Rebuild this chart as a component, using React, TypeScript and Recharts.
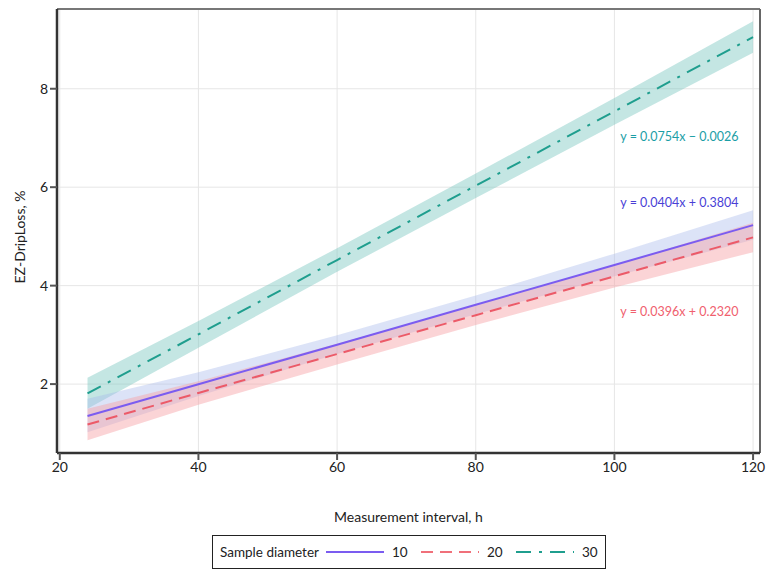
import React from 'react'
import { ComposedChart, Line, Area, XAxis, YAxis, CartesianGrid, ReferenceLine, ReferenceDot } from 'recharts'

// measurement interval, h
const hours = [24, 40, 60, 80, 100, 120]

// fitted lines
const fit10 = [1.35, 1.997, 2.80, 3.61, 4.42, 5.23]
const fit20 = [1.18, 1.82, 2.61, 3.40, 4.19, 4.98]
const fit30 = [1.81, 3.01, 4.52, 6.03, 7.54, 9.05]

// confidence bands (low / high)
const low10 = [1.02, 1.76, 2.61, 3.42, 4.19, 4.93]
const high10 = [1.70, 2.24, 2.99, 3.80, 4.65, 5.53]
const low20 = [0.86, 1.58, 2.40, 3.20, 3.96, 4.68]
const high20 = [1.50, 2.06, 2.82, 3.60, 4.42, 5.28]
const low30 = [1.50, 2.74, 4.28, 5.78, 7.27, 8.73]
const high30 = [2.13, 3.28, 4.76, 6.28, 7.81, 9.37]

const xTicks = [20, 40, 60, 80, 100, 120]
const yTicks = [2, 4, 6, 8]

const equations = [
  { text: 'y = 0.0754x \u2212 0.0026', x: 101, y: 7.0, color: '#1b9ea6' },
  { text: 'y = 0.0404x + 0.3804', x: 101, y: 5.66, color: '#4a3fd6' },
  { text: 'y = 0.0396x + 0.2320', x: 101, y: 3.44, color: '#f0606e' },
]

const legendItems = [
  { label: '10', color: '#7b5cf0', dash: undefined },
  { label: '20', color: '#f0707a', dash: '12 7' },
  { label: '30', color: '#1f9e8e', dash: '15 8 3 8' },
]

const data = hours.map((h, i) => ({
  h,
  l10: fit10[i],
  l20: fit20[i],
  l30: fit30[i],
  b10: [low10[i], high10[i]],
  b20: [low20[i], high20[i]],
  b30: [low30[i], high30[i]],
}))

const FONT = 'Lato, "Open Sans", sans-serif'

function LegendBox() {
  return (
    <div
      style={{
        position: 'absolute',
        left: 212,
        top: 535,
        display: 'flex',
        alignItems: 'center',
        border: '1.5px solid #222',
        height: 34,
        width: 394,
        boxSizing: 'border-box',
        paddingLeft: 7,
        fontFamily: FONT,
        fontSize: 13.5,
        color: '#222',
        whiteSpace: 'nowrap',
      }}
    >
      <span style={{ width: 106, flexShrink: 0 }}>Sample diameter</span>
      {legendItems.map((it, i) => (
        <span
          key={it.label}
          style={{ display: 'flex', alignItems: 'center', flexShrink: 0, width: i < legendItems.length - 1 ? 95 : 'auto' }}
        >
          <svg width={58} height={6}>
            <line x1={0} y1={3} x2={58} y2={3} stroke={it.color} strokeWidth={2} strokeDasharray={it.dash} />
          </svg>
          <span style={{ marginLeft: 8 }}>{it.label}</span>
        </span>
      ))}
    </div>
  )
}

export default function App() {
  return (
    <div style={{ position: 'absolute', left: 0, top: 0, width: 772, height: 581, background: '#fff' }}>
      <ComposedChart width={772} height={581} data={data} margin={{ top: 9, right: 12, left: 0, bottom: 98 }}>
        <CartesianGrid stroke="#e6e6e6" strokeWidth={1} />
        <XAxis
          dataKey="h"
          type="number"
          domain={[19.6, 121]}
          ticks={xTicks}
          allowDataOverflow
          height={30}
          axisLine={{ stroke: '#333', strokeWidth: 2.5 }}
          tickLine={{ stroke: '#555', strokeWidth: 2 }}
          tickSize={7}
          tick={{ fill: '#222', fontSize: 14, fontFamily: FONT }}
        />
        <YAxis
          type="number"
          domain={[0.6, 9.62]}
          ticks={yTicks}
          allowDataOverflow
          width={57}
          axisLine={{ stroke: '#333', strokeWidth: 2.5 }}
          tickLine={{ stroke: '#555', strokeWidth: 2 }}
          tickSize={7}
          tick={{ fill: '#222', fontSize: 14, fontFamily: FONT }}
        />
        <ReferenceLine y={9.62} stroke="#777" strokeWidth={2} />
        <ReferenceLine x={121} stroke="#666" strokeWidth={2} />
        <Area type="linear" dataKey="b30" stroke="none" fill="#7cc8c0" fillOpacity={0.45} isAnimationActive={false} />
        <Area type="linear" dataKey="b10" stroke="none" fill="#a8b8ec" fillOpacity={0.4} isAnimationActive={false} />
        <Area type="linear" dataKey="b20" stroke="none" fill="#f7a0a4" fillOpacity={0.45} isAnimationActive={false} />
        <Line type="linear" dataKey="l30" stroke="#1f9e8e" strokeWidth={2} strokeDasharray="15 8 3 8" dot={false} isAnimationActive={false} />
        <Line type="linear" dataKey="l10" stroke="#7b5cf0" strokeWidth={2} dot={false} isAnimationActive={false} />
        <Line type="linear" dataKey="l20" stroke="#ec5a68" strokeWidth={2} strokeDasharray="12 7" dot={false} isAnimationActive={false} />
        {equations.map((eq) => (
          <ReferenceDot
            key={eq.text}
            x={eq.x}
            y={eq.y}
            r={1}
            fill="none"
            stroke="none"
            label={(props: any) => (
              <text
                x={props.viewBox.x}
                y={props.viewBox.y + 1}
                fill={eq.color}
                fontSize={12.5}
                fontFamily={FONT}
                dominantBaseline="middle"
              >
                {eq.text}
              </text>
            )}
          />
        ))}
      </ComposedChart>
      <div
        style={{
          position: 'absolute',
          left: 0,
          width: 772,
          top: 508,
          textAlign: 'center',
          paddingLeft: 45,
          boxSizing: 'border-box',
          fontFamily: FONT,
          fontSize: 14,
          color: '#222',
        }}
      >
        Measurement interval, h
      </div>
      <div
        style={{
          position: 'absolute',
          left: 19,
          top: 237,
          transform: 'translate(-50%, -50%) rotate(-90deg)',
          whiteSpace: 'nowrap',
          fontFamily: FONT,
          fontSize: 14,
          color: '#222',
        }}
      >
        EZ-DripLoss, %
      </div>
      <LegendBox />
    </div>
  )
}
